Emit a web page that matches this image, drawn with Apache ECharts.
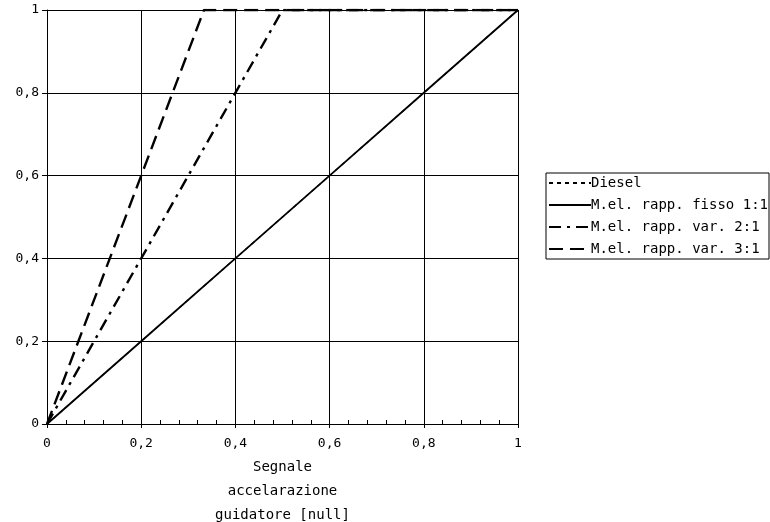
<!DOCTYPE html>
<html><head><meta charset="utf-8">
<script src="https://cdn.jsdelivr.net/npm/echarts@6/dist/echarts.min.js"></script>
<style>html,body{margin:0;padding:0;background:#fff}#c{width:770px;height:522px}</style>
</head><body><div id="c"></div>
<script>
var seriesNames = ['Diesel', 'M.el. rapp. fisso 1:1', 'M.el. rapp. var. 2:1', 'M.el. rapp. var. 3:1'];
var diesel = [[0, 0], [0.2, 0.2], [0.4, 0.4], [0.6, 0.6], [0.8, 0.8], [1, 1]];
var fisso11 = [[0, 0], [0.2, 0.2], [0.4, 0.4], [0.6, 0.6], [0.8, 0.8], [1, 1]];
var var21 = [[0, 0], [0.2, 0.4], [0.4, 0.8], [0.5, 1], [0.6, 1], [0.8, 1], [1, 1]];
var var31 = [[0, 0], [0.2, 0.6], [0.3333, 1], [0.4, 1], [0.6, 1], [0.8, 1], [1, 1]];
var xTicks = [0, 0.2, 0.4, 0.6, 0.8, 1];
var yTicks = [0, 0.2, 0.4, 0.6, 0.8, 1];
var xName = 'Segnale\naccelarazione\nguidatore [null]';

var font = 'DejaVu Sans Mono';
function fmt(v){ return String(+v.toFixed(2)).replace('.', ','); }
var chart = echarts.init(document.getElementById('c'));
chart.setOption({
  animation: false,
  backgroundColor: '#fff',
  textStyle: {fontFamily: font, color: '#000'},
  grid: {left: 47, right: 252, top: 10, bottom: 98, outerBoundsMode: 'none', containLabel: false},
  legend: {
    orient: 'vertical', left: 546, top: 173,
    itemWidth: 42, itemHeight: 14, itemGap: 8,
    padding: [3, 1, 3, 2],
    borderColor: '#000', borderWidth: 1, backgroundColor: '#fff', borderRadius: 0,
    itemStyle: {opacity: 0},
    textStyle: {fontFamily: font, fontSize: 14, color: '#000', padding: [0, 0, 0, -5]},
    data: seriesNames
  },
  xAxis: [{
    type: 'value', min: 0, max: 1, interval: 0.2,
    name: xName, nameLocation: 'middle', nameGap: 31,
    nameTextStyle: {fontFamily: font, fontSize: 14, color: '#000', lineHeight: 24},
    axisLine: {show: true, onZero: false, lineStyle: {color: '#000', width: 1}},
    axisTick: {show: true, length: 4, lineStyle: {color: '#000'}},
    axisLabel: {fontFamily: font, fontSize: 13, color: '#000', margin: 13, formatter: fmt},
    splitLine: {show: true, lineStyle: {color: '#000', width: 1}}
  }, {
    type: 'value', min: 0, max: 1, interval: 0.2, position: 'bottom', gridIndex: 0,
    axisLine: {show: false},
    axisTick: {show: false, inside: true},
    minorTick: {show: true, splitNumber: 5, length: 4, lineStyle: {color: '#000', width: 1}},
    axisLabel: {show: false},
    splitLine: {show: false}
  }],
  yAxis: {
    type: 'value', min: 0, max: 1, interval: 0.2,
    axisLine: {show: true, onZero: false, lineStyle: {color: '#000', width: 1}},
    axisTick: {show: true, length: 5, lineStyle: {color: '#000'}},
    axisLabel: {fontFamily: font, fontSize: 13, color: '#000', margin: 8, formatter: fmt},
    splitLine: {show: true, lineStyle: {color: '#000', width: 1}}
  },
  series: [
    {name: seriesNames[0], type: 'line', data: diesel, symbol: 'none', showSymbol: false, z: 1,
     lineStyle: {color: '#000', width: 1.2, type: [4, 4]}, itemStyle: {color: '#000'}},
    {name: seriesNames[1], type: 'line', data: fisso11, symbol: 'none', showSymbol: false, z: 2,
     lineStyle: {color: '#000', width: 1.8, type: 'solid'}, itemStyle: {color: '#000'}},
    {name: seriesNames[2], type: 'line', data: var21, symbol: 'none', showSymbol: false, z: 3,
     lineStyle: {color: '#000', width: 2.4, type: [12, 6, 3, 6]}, itemStyle: {color: '#000'}},
    {name: seriesNames[3], type: 'line', data: var31, symbol: 'none', showSymbol: false, z: 4,
     lineStyle: {color: '#000', width: 2.4, type: [14, 7]}, itemStyle: {color: '#000'}}
  ]
});
</script></body></html>
